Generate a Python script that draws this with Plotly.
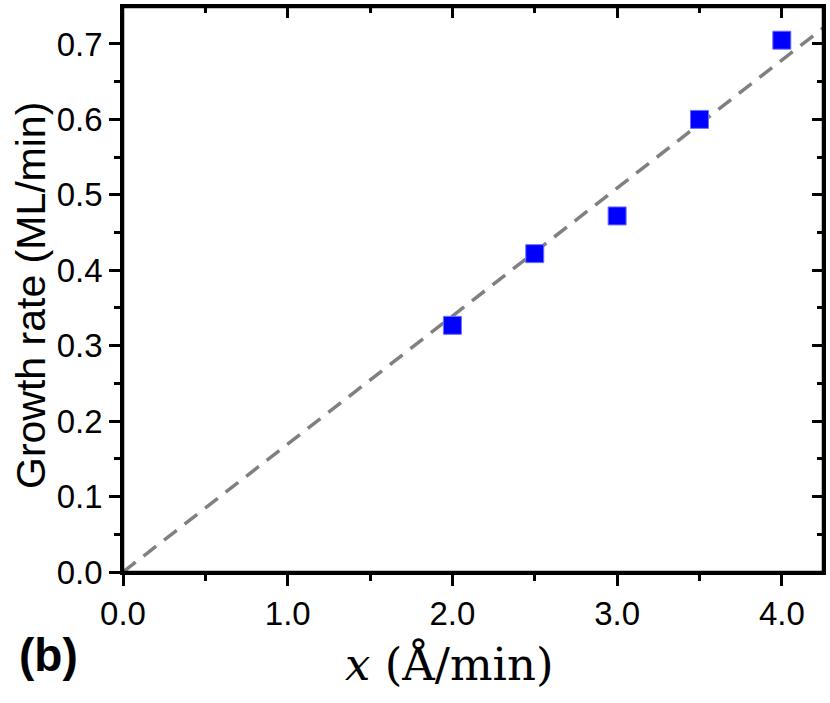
import plotly.graph_objects as go

# measured points
rate_x = [2.0, 2.5, 3.0, 3.5, 4.0]
growth_rate = [0.327, 0.422, 0.472, 0.600, 0.705]

# linear fit through origin (end points)
fit_x = [0.0, 4.25]
fit_y = [0.0, 0.721]

X_RANGE = [0, 4.25]
Y_RANGE = [0, 0.749]

AXIS_COLOR = "#000000"
FONT = "Liberation Sans, Arial, sans-serif"
SERIF = "DejaVu Serif, Liberation Serif, serif"

W, H = 830, 703
# plot area in pixels
L, R, T, B = 123, 823, 7, 572


def px(x):
    return (x - L) / (R - L)


def py(y):
    return (B - y) / (B - T)


fig = go.Figure()

fig.add_trace(
    go.Scatter(
        x=fit_x,
        y=fit_y,
        mode="lines",
        line={"color": "#808080", "width": 3.5, "dash": "16px,10px"},
        showlegend=False,
    )
)
fig.add_trace(
    go.Scatter(
        x=rate_x,
        y=growth_rate,
        mode="markers",
        marker={"symbol": "square", "size": 18, "color": "#0000FF",
                "line": {"color": "#6f6fff", "width": 1}},
        showlegend=False,
    )
)
# invisible trace so the mirrored (top/right) axes get drawn
fig.add_trace(
    go.Scatter(x=fit_x, y=fit_y, xaxis="x2", yaxis="y2", mode="markers",
               marker={"size": 1, "opacity": 0}, hoverinfo="skip", showlegend=False)
)

common = dict(showgrid=False, zeroline=False, showline=True, linecolor=AXIS_COLOR,
              linewidth=2.5, tickcolor=AXIS_COLOR, tickwidth=2.5, automargin=False,
              tickfont={"size": 33, "family": FONT})


def minor(dtick, side):
    return {"dtick": dtick, "ticks": side, "ticklen": 6,
            "tickcolor": AXIS_COLOR, "tickwidth": 2.5}


fig.update_layout(
    width=W,
    height=H,
    margin={"l": L, "r": W - R, "t": T, "b": H - B, "pad": 0, "autoexpand": False},
    paper_bgcolor="white",
    plot_bgcolor="white",
    font={"family": FONT, "size": 33, "color": "#000000"},
    xaxis=dict(common, range=X_RANGE, dtick=1, tick0=0, tickformat=".1f", mirror=True,
               ticks="outside", ticklen=11, minor=minor(0.5, "outside")),
    yaxis=dict(common, range=Y_RANGE, dtick=0.1, tick0=0, tickformat=".1f", mirror=True,
               ticks="outside", ticklen=11, minor=minor(0.05, "outside")),
    xaxis2=dict(common, range=X_RANGE, overlaying="x", anchor="y", side="top",
                dtick=1, tick0=0, ticks="inside", ticklen=11, showticklabels=False,
                minor=minor(0.5, "inside")),
    yaxis2=dict(common, range=Y_RANGE, overlaying="y", anchor="x", side="right",
                dtick=0.1, tick0=0, ticks="inside", ticklen=11, showticklabels=False,
                minor=minor(0.05, "inside")),
    shapes=[
        dict(type="rect", xref="paper", yref="paper", x0=0, y0=0, x1=1, y1=1,
             line={"color": AXIS_COLOR, "width": 2.5}, layer="above")
    ],
    annotations=[
        dict(text="Growth rate (ML/min)", x=px(31), y=py(296), textangle=-90,
             font={"size": 41}),
        dict(text="<i>x</i> (Å/min)", x=px(449), y=py(664),
             font={"size": 45, "family": SERIF}),
        dict(text="<b>(b)</b>", x=px(48), y=py(655), font={"size": 46}),
    ],
)
for ann in fig.layout.annotations:
    ann.update(xref="paper", yref="paper", showarrow=False,
               xanchor="center", yanchor="middle")

# drop the browser's default 8px body margin so the figure fills the window
fig.write_html(
    "out.html",
    config={"displayModeBar": False},
    post_script="document.body.style.margin = '0';",
)
